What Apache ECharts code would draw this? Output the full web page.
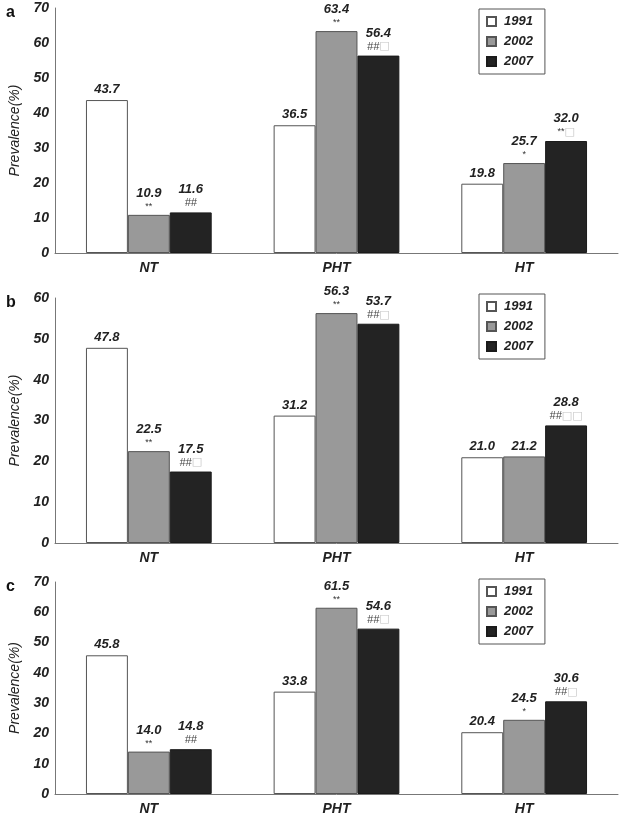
<!DOCTYPE html>
<html>
<head>
<meta charset="utf-8">
<script src="https://cdn.jsdelivr.net/npm/echarts@6/dist/echarts.min.js"></script>
<style>
  html, body { margin: 0; padding: 0; background: #fff; }
  #main { width: 621px; height: 816px; }
</style>
</head>
<body>
<div id="main"></div>
<script>
// categories and years
const categories = ['NT', 'PHT', 'HT']
const years = ['1991', '2002', '2007']

// panel a
const a1991 = [43.7, 36.5, 19.8]
const a2002 = [10.9, 63.4, 25.7]
const a2007 = [11.6, 56.4, 32.0]
const aMark2002 = ['**', '**', '*']
const aMark2007 = ['##', '##□', '**□']

// panel b
const b1991 = [47.8, 31.2, 21.0]
const b2002 = [22.5, 56.3, 21.2]
const b2007 = [17.5, 53.7, 28.8]
const bMark2002 = ['**', '**', '']
const bMark2007 = ['##□', '##□', '##□□']

// panel c
const c1991 = [45.8, 33.8, 20.4]
const c2002 = [14.0, 61.5, 24.5]
const c2007 = [14.8, 54.6, 30.6]
const cMark2002 = ['**', '**', '*']
const cMark2007 = ['##', '##□', '##□']

const noMarks = ['', '', '']

const FONT = 'Liberation Sans, Arial, sans-serif'
const fills = { '1991': '#ffffff', '2002': '#999999', '2007': '#232323' }
const borders = { '1991': '#555555', '2002': '#555555', '2007': '#1a1a1a' }

// grid boxes for the three panels
const panels = [
  { key: 'a', top: 8, height: 245, max: 70, legendTop: 9, data: [a1991, a2002, a2007], marks: [noMarks, aMark2002, aMark2007] },
  { key: 'b', top: 298, height: 245, max: 60, legendTop: 294, data: [b1991, b2002, b2007], marks: [noMarks, bMark2002, bMark2007] },
  { key: 'c', top: 582, height: 213, max: 70, legendTop: 579, data: [c1991, c2002, c2007], marks: [noMarks, cMark2002, cMark2007] }
]

function markRich(m) {
  return m.replace(/\*+/g, x => '{s|' + x + '}')
          .replace(/#+/g, x => '{h|' + x + '}')
          .replace(/□+/g, x => '{t|' + x + '}')
}

const labelRich = {
  v: { fontFamily: FONT, fontSize: 13, fontWeight: 'bold', fontStyle: 'italic', color: '#222', lineHeight: 15 },
  s: { fontFamily: FONT, fontSize: 9, color: '#333', lineHeight: 11 },
  h: { fontFamily: FONT, fontSize: 11, fontStyle: 'italic', color: '#444', lineHeight: 12 },
  t: { fontFamily: 'DejaVu Sans', fontSize: 11, color: '#c4c4c4', lineHeight: 12 }
}

var myChart = echarts.init(document.getElementById('main'))

const grid = [], xAxis = [], yAxis = [], series = [], legend = [], title = []
panels.forEach((p, i) => {
  grid.push({ left: 49, width: 569, top: p.top, height: p.height })
  xAxis.push({
    type: 'category',
    gridIndex: i,
    data: categories,
    axisLine: { lineStyle: { color: '#777', width: 1 } },
    axisTick: { inside: true, length: 4, lineStyle: { color: '#777' } },
    axisLabel: { fontFamily: FONT, fontSize: 14, fontWeight: 'bold', fontStyle: 'italic', color: '#222', margin: 8 }
  })
  yAxis.push({
    type: 'value',
    gridIndex: i,
    min: 0,
    max: p.max,
    interval: 10,
    name: 'Prevalence(%)',
    nameLocation: 'middle',
    nameGap: 33,
    nameTextStyle: { fontFamily: FONT, fontSize: 14, fontStyle: 'italic', color: '#222' },
    axisLine: { show: true, lineStyle: { color: '#777', width: 1 } },
    axisTick: { show: false },
    splitLine: { show: false },
    axisLabel: { fontFamily: FONT, fontSize: 14, fontWeight: 'bold', fontStyle: 'italic', color: '#222', margin: 6 }
  })
  years.forEach((yr, j) => {
    const marks = p.marks[j]
    series.push({
      name: yr,
      type: 'bar',
      xAxisIndex: i,
      yAxisIndex: i,
      data: p.data[j],
      barGap: '0%',
      barCategoryGap: '33%',
      itemStyle: { color: fills[yr], borderColor: borders[yr], borderWidth: 1 },
      label: {
        show: true,
        position: 'top',
        distance: 3,
        rich: labelRich,
        formatter: params => {
          const m = marks[params.dataIndex]
          const v = '{v|' + params.value.toFixed(1) + '}'
          return m ? v + '\n' + markRich(m) : v
        }
      }
    })
  })
  legend.push({
    data: years.map(y => ({ name: y, icon: 'rect' })),
    orient: 'vertical',
    left: 479,
    top: p.legendTop,
    padding: [5, 12, 5, 7],
    itemGap: 5,
    itemWidth: 9,
    itemHeight: 9,
    borderColor: '#555',
    borderWidth: 1,
    selectedMode: false,
    textStyle: { fontFamily: FONT, fontSize: 13, fontWeight: 'bold', fontStyle: 'italic', color: '#222', lineHeight: 15, padding: [0, 0, 0, 3] }
  })
  title.push({
    text: p.key,
    left: 1,
    top: p.top - 8,
    textStyle: { fontFamily: FONT, fontSize: 16, fontWeight: 'bold', color: '#111' }
  })
})

const option = {
  animation: false,
  title: title,
  legend: legend,
  grid: grid,
  xAxis: xAxis,
  yAxis: yAxis,
  series: series
}
myChart.setOption(option)
</script>
</body>
</html>
